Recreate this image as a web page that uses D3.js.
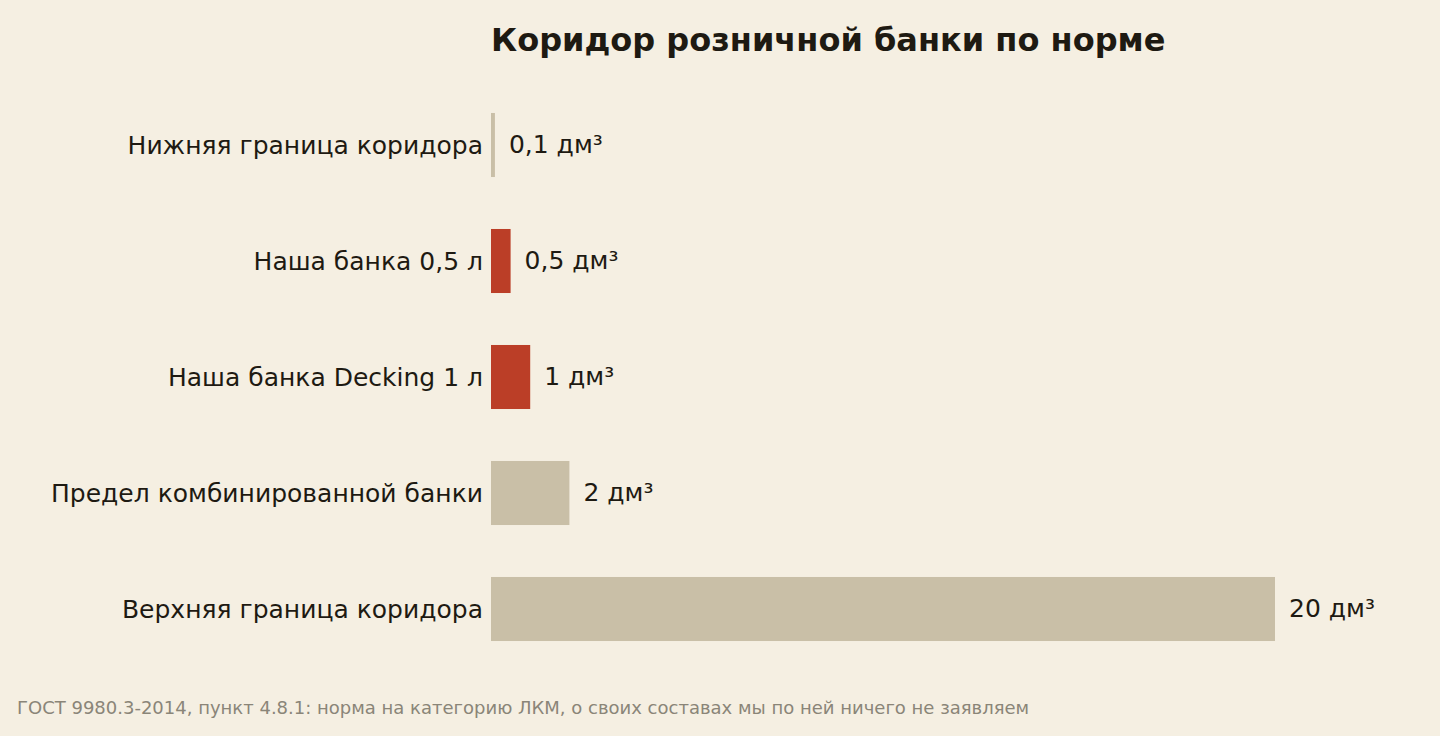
<!DOCTYPE html>
<html><head><meta charset="utf-8">
<script src="https://cdn.jsdelivr.net/npm/d3@7/dist/d3.min.js"></script>
<style>
body{margin:0;background:#f5efe2;}
text{font-family:"DejaVu Sans",sans-serif;}
</style></head>
<body><div id="chart"></div>
<script>
// Data
const categories = ["Нижняя граница коридора", "Наша банка 0,5 л", "Наша банка Decking 1 л", "Предел комбинированной банки", "Верхняя граница коридора"];
const values = [0.1, 0.5, 1, 2, 20];
const valueLabels = ["0,1 дм³", "0,5 дм³", "1 дм³", "2 дм³", "20 дм³"];
const ours = [false, true, true, false, false];

const W = 1440, H = 736;
const svg = d3.select('#chart').append('svg').attr('width', W).attr('height', H);
svg.append('rect').attr('width', W).attr('height', H).attr('fill', '#f5efe2');

const x = d3.scaleLinear().domain([0, 20]).range([491, 1275]);
const y = d3.scaleBand().domain(categories).range([87, 667]).paddingInner(0.448).paddingOuter(0.224);

// title
svg.append('text').attr('x', 491).attr('y', 51)
    .attr('font-size', 32).attr('font-weight', 'bold').attr('fill', '#1e1a12')
    .text('Коридор розничной банки по норме');

// bars
svg.selectAll('rect.bar').data(categories).enter().append('rect')
    .attr('class', 'bar')
    .attr('x', x(0))
    .attr('y', d => y(d))
    .attr('width', (d, i) => x(values[i]) - x(0))
    .attr('height', y.bandwidth())
    .attr('fill', (d, i) => ours[i] ? '#bb3e27' : '#c9bfa7');

// category labels
svg.selectAll('text.cat').data(categories).enter().append('text')
    .attr('class', 'cat')
    .attr('x', 483).attr('y', d => y(d) + y.bandwidth() / 2)
    .attr('dy', '0.35em').attr('text-anchor', 'end')
    .attr('font-size', 25).attr('fill', '#1e1a12')
    .text(d => d);

// value labels
svg.selectAll('text.val').data(categories).enter().append('text')
    .attr('class', 'val')
    .attr('x', (d, i) => x(values[i]) + 14).attr('y', d => y(d) + y.bandwidth() / 2)
    .attr('dy', '0.3em')
    .attr('font-size', 25).attr('fill', '#1e1a12')
    .text((d, i) => valueLabels[i]);

// footer
svg.append('text').attr('x', 17).attr('y', 714)
    .attr('font-size', 18).attr('fill', '#8a8578')
    .text('ГОСТ 9980.3-2014, пункт 4.8.1: норма на категорию ЛКМ, о своих составах мы по ней ничего не заявляем');
</script></body></html>
